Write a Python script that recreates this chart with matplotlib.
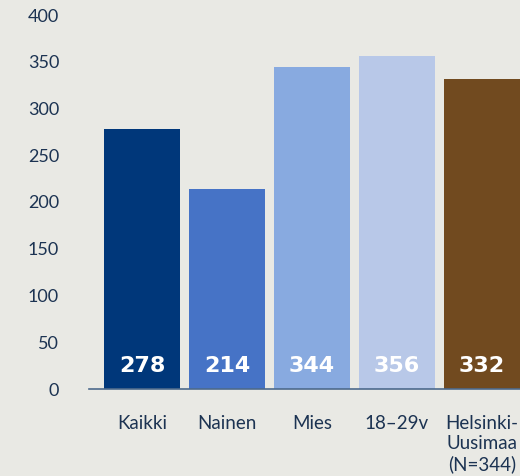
import matplotlib
matplotlib.use("Agg")
import matplotlib.pyplot as plt

categories = ["Kaikki", "Nainen", "Mies", "18–29v", "Helsinki-\nUusimaa\n(N=344)"]
values = [278, 214, 344, 356, 332]
colors = ["#00377a", "#4673c6", "#88aae0", "#b8c8e8", "#714a1f"]
yticks = [0, 50, 100, 150, 200, 250, 300, 350, 400]

bg = "#e9e9e4"
txt = "#1c3352"

plt.rcParams["font.family"] = ["Lato", "DejaVu Sans"]

fig = plt.figure(figsize=(5.2, 4.76), dpi=100, facecolor=bg)
ax = fig.add_axes([89/520, 87/476, 1 - 89/520, (461-87)/476])
ax.set_facecolor(bg)

x = list(range(len(categories)))
ax.bar(x, values, width=76/85, color=colors, zorder=2)
for xi, v in zip(x, values):
    ax.text(xi, 25, str(v), ha="center", va="center", color="white",
            fontsize=16, fontweight="bold", family="DejaVu Sans", zorder=3)

ax.set_xlim((89-142)/85, (520-142)/85)
ax.set_ylim(0, 400)
ax.set_yticks(yticks)
ax.set_xticks(x)
ax.set_xticklabels(categories, linespacing=1.2, va="top")
ax.tick_params(axis="y", length=0, pad=21.5, labelsize=13, labelcolor=txt)
ax.tick_params(axis="x", length=0, pad=19, labelsize=13.5, labelcolor=txt)
for s in ["top", "right", "left"]:
    ax.spines[s].set_visible(False)
ax.spines["bottom"].set_color("#4d6a8c")
ax.spines["bottom"].set_linewidth(1.2)

fig.savefig("out.png", dpi=100, facecolor=bg)
